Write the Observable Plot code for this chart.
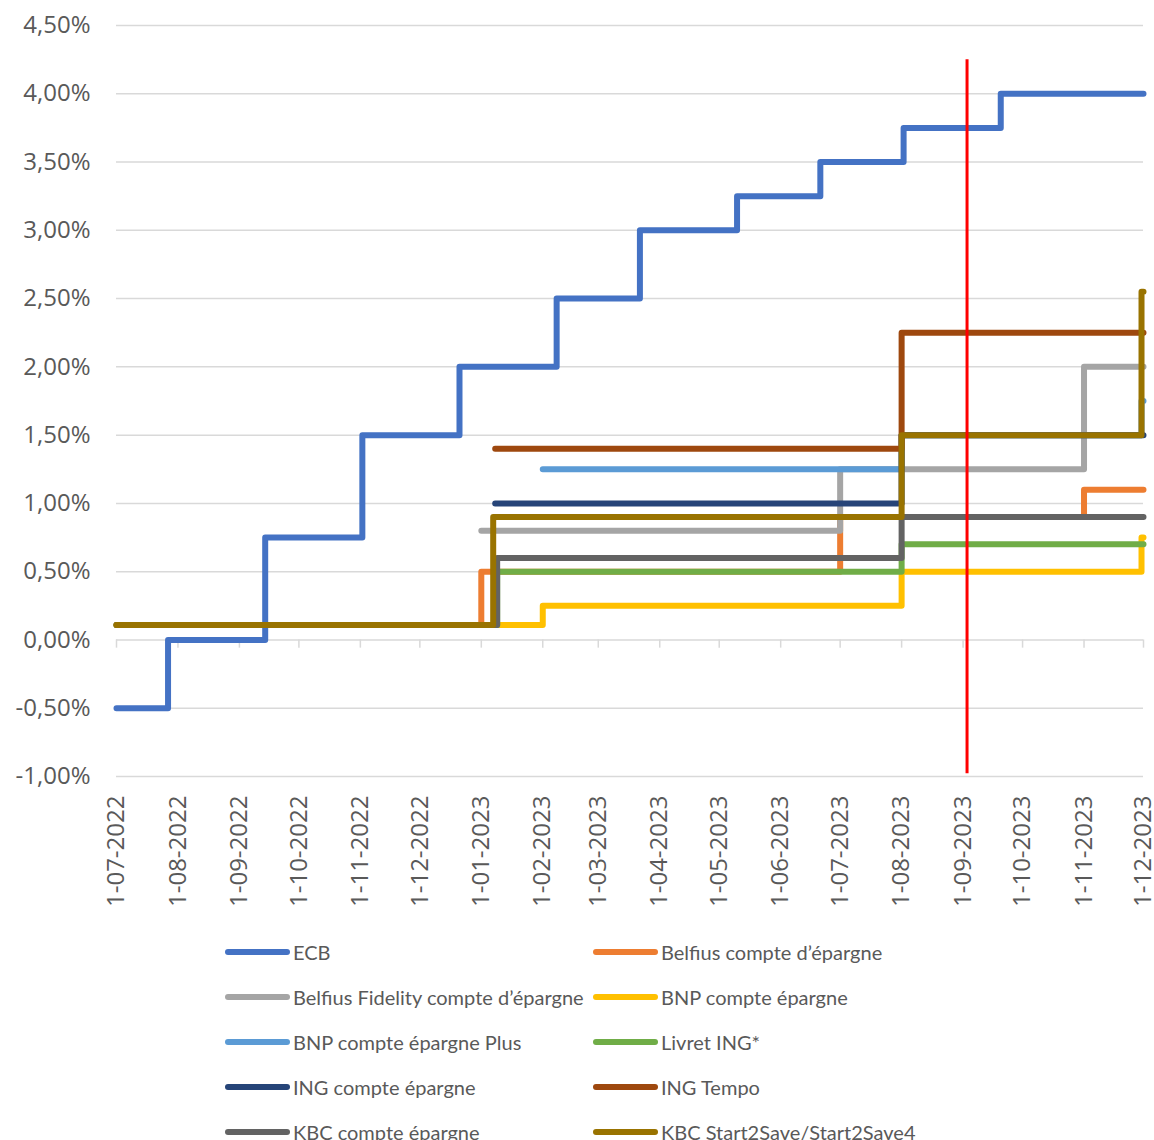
<!DOCTYPE html>
<html><head><meta charset="utf-8">
<script src="https://cdn.jsdelivr.net/npm/d3@7"></script>
<script src="https://cdn.jsdelivr.net/npm/@observablehq/plot@0.6"></script>
<style>
body{margin:0;background:#fff;}
#legend{display:grid;grid-template-columns:368px 368px;margin-left:225px;padding-top:9.5px;font-family:Lato, sans-serif;font-size:20px;color:#595959;}
.item{display:flex;align-items:center;height:45px;white-space:nowrap;}
.sw{width:65px;height:6px;border-radius:3px;margin-right:3px;flex:none;}
</style></head><body>
<div id="chart"></div><div id="legend"></div>
<script>
const seriesNames = ["ECB","Belfius compte d’épargne","Belfius Fidelity compte d’épargne","BNP compte épargne","BNP compte épargne Plus","Livret ING*","ING compte épargne","ING Tempo","KBC compte épargne","KBC Start2Save/Start2Save4"];
const seriesColors = ["#4472C4","#ED7D31","#A5A5A5","#FFC000","#5B9BD5","#70AD47","#264478","#9E480E","#636363","#997300"];

const ecb = [["2022-07-01",-0.50],["2022-07-27",0.00],["2022-09-14",0.75],["2022-11-02",1.50],["2022-12-21",2.00],["2023-02-08",2.50],["2023-03-22",3.00],["2023-05-10",3.25],["2023-06-21",3.50],["2023-08-02",3.75],["2023-09-20",4.00],["2023-12-01",4.00]];
const belfius = [["2022-07-01",0.11],["2023-01-01",0.50],["2023-07-01",0.90],["2023-11-01",1.10],["2023-12-01",1.10]];
const belfiusFidelity = [["2023-01-01",0.80],["2023-07-01",1.25],["2023-11-01",2.00],["2023-12-01",2.00]];
const bnp = [["2022-07-01",0.11],["2023-02-01",0.25],["2023-08-01",0.50],["2023-11-30",0.75],["2023-12-01",0.75]];
const bnpPlus = [["2023-02-01",1.25],["2023-08-01",1.50],["2023-11-30",1.75],["2023-12-01",1.75]];
const livretIng = [["2022-07-01",0.11],["2023-01-09",0.50],["2023-08-01",0.70],["2023-12-01",0.70]];
const ingEpargne = [["2023-01-08",1.00],["2023-08-01",1.50],["2023-12-01",1.50]];
const ingTempo = [["2023-01-08",1.40],["2023-08-01",2.25],["2023-12-01",2.25]];
const kbcEpargne = [["2022-07-01",0.11],["2023-01-09",0.60],["2023-08-01",0.90],["2023-12-01",0.90]];
const kbcStart2Save = [["2022-07-01",0.11],["2023-01-07",0.90],["2023-08-01",1.50],["2023-11-30",2.55],["2023-12-01",2.55]];

const seriesValues = [ecb, belfius, belfiusFidelity, bnp, bnpPlus, livretIng, ingEpargne, ingTempo, kbcEpargne, kbcStart2Save];

const xTickDates = ["2022-07-01","2022-08-01","2022-09-01","2022-10-01","2022-11-01","2022-12-01","2023-01-01","2023-02-01","2023-03-01","2023-04-01","2023-05-01","2023-06-01","2023-07-01","2023-08-01","2023-09-01","2023-10-01","2023-11-01","2023-12-01"];
const yTicks = [-1.0,-0.5,0,0.5,1.0,1.5,2.0,2.5,3.0,3.5,4.0,4.5];
const markerDate = "2023-09-03";
const markerRange = [-0.98, 4.25];

const parse = d3.utcParse("%Y-%m-%d");
const rows = [];
seriesNames.forEach((name, i) => seriesValues[i].forEach(([d, v]) => rows.push({series: name, date: parse(d), rate: v})));
const xTicks = xTickDates.map(parse);
const fmtY = d => d.toFixed(2).replace(".", ",") + "%";

const chart = Plot.plot({
  width: 1154, height: 920,
  marginLeft: 116, marginRight: 11, marginTop: 25, marginBottom: 144,
  style: {fontFamily: "'Open Sans', sans-serif", fontSize: "24px", color: "#595959", background: "#fff"},
  x: {type: "utc", domain: [xTicks[0], xTicks[xTicks.length - 1]]},
  y: {domain: [yTicks[0], yTicks[yTicks.length - 1]]},
  color: {domain: seriesNames, range: seriesColors},
  marks: [
    Plot.ruleY(yTicks, {stroke: "#d9d9d9", strokeWidth: 1.5}),
    Plot.ruleX(xTicks, {x: d => d, y1: 0, y2: -0.06, stroke: "#d9d9d9", strokeWidth: 1.5}),
    Plot.axisY(yTicks, {tickSize: 0, tickPadding: 26, tickFormat: fmtY, fontSize: 24, fill: "#595959", label: null}),
    Plot.axisX(xTicks, {tickSize: 0, tickPadding: 19, tickRotate: -90, tickFormat: d3.utcFormat("%-d-%m-%Y"), fontSize: 24, fill: "#595959", label: null}),
    Plot.line(rows, {x: "date", y: "rate", z: "series", stroke: "series", strokeWidth: 6, curve: "step-after", strokeLinecap: "round", strokeLinejoin: "round"}),
    Plot.ruleX([parse(markerDate)], {x: d => d, y1: markerRange[0], y2: markerRange[1], stroke: "#ff0000", strokeWidth: 3})
  ]
});
document.getElementById("chart").appendChild(chart);

const legend = document.getElementById("legend");
seriesNames.forEach((name, i) => {
  const item = document.createElement("div");
  item.className = "item";
  const sw = document.createElement("span");
  sw.className = "sw";
  sw.style.background = seriesColors[i];
  const t = document.createElement("span");
  t.textContent = name;
  item.appendChild(sw); item.appendChild(t);
  legend.appendChild(item);
});
</script>
</body></html>
